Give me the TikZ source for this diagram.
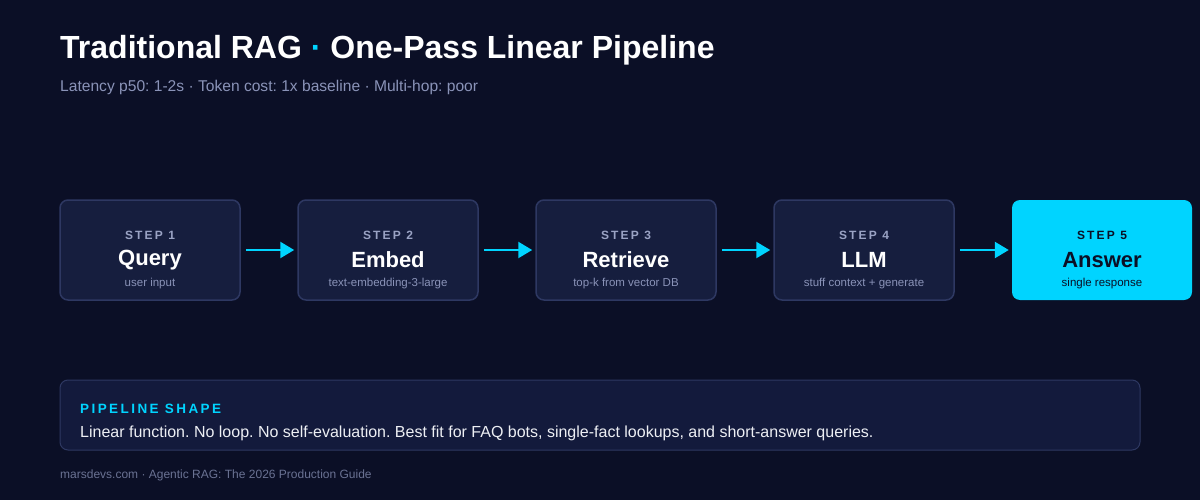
\documentclass[tikz,border=0pt]{standalone}
\usepackage{fontspec}
\setmainfont{Liberation Sans}
\usetikzlibrary{positioning,arrows.meta}
\definecolor{bgc}{HTML}{0B0F26}
\definecolor{boxc}{HTML}{161E3E}
\definecolor{edgec}{HTML}{2E3862}
\definecolor{cyanc}{HTML}{00D4FF}
\definecolor{mutec}{HTML}{8A93B8}
\definecolor{stepc}{HTML}{9AA3C4}
\definecolor{notec}{HTML}{131A3C}
\newcommand{\spaced}[1]{{\addfontfeature{LetterSpace=18}#1}}
\frenchspacing
\begin{document}
\begin{tikzpicture}[x=1pt,y=-1pt,>={Triangle[length=14pt,width=16pt]},
  every node/.style={inner sep=0pt},
  stepbox/.style={draw=edgec,line width=1.5pt,fill=boxc,rounded corners=8pt,minimum width=180pt,minimum height=100pt},
  lastbox/.style={fill=cyanc,rounded corners=8pt,minimum width=180pt,minimum height=100pt},
  flow/.style={->,draw=cyanc,line width=2.5pt,shorten <=5pt,shorten >=3pt}]
\fill[bgc] (0,0) rectangle (1200,500);
\useasboundingbox (0,0) rectangle (1200,500);
% heading
\node[anchor=base west,text=white,font=\bfseries\fontsize{32}{34}\selectfont] (title) at (60,59) {Traditional RAG \textcolor{cyanc}{·} One-Pass Linear Pipeline};
\node[anchor=base west,text=mutec,font=\fontsize{15.6}{18}\selectfont] (sub) at (60,92) {Latency p50: 1-2s · Token cost: 1x baseline · Multi-hop: poor};
% steps
\node[stepbox] (s1) at (150,250) {};
\node[stepbox] (s2) at (388,250) {};
\node[stepbox] (s3) at (626,250) {};
\node[stepbox] (s4) at (864,250) {};
\node[lastbox] (s5) at (1102,250) {};
\foreach \n/\k/\t/\d in {s1/1/Query/user input,s2/2/Embed/text-embedding-3-large,s3/3/Retrieve/top-k from vector DB,s4/4/LLM/stuff context + generate}{
  \node[text=stepc,font=\bfseries\fontsize{12}{14}\selectfont] (\n k) at ([yshift=15pt]\n.center) {\spaced{STEP \k}};
  \node[text=white,font=\bfseries\fontsize{22}{24}\selectfont] (\n t) at ([yshift=-10pt]\n.center) {\t};
  \node[text=mutec,font=\fontsize{11.5}{13}\selectfont] (\n d) at ([yshift=-34pt]\n.center) {\d};
}
\node[text=bgc,font=\bfseries\fontsize{12}{14}\selectfont] (s5k) at ([yshift=15pt]s5.center) {\spaced{STEP 5}};
\node[text=bgc,font=\bfseries\fontsize{22}{24}\selectfont] (s5t) at ([yshift=-10pt]s5.center) {Answer};
\node[text=bgc,font=\fontsize{11.5}{13}\selectfont] (s5d) at ([yshift=-34pt]s5.center) {single response};
\draw[flow] (s1) -- (s2);
\draw[flow] (s2) -- (s3);
\draw[flow] (s3) -- (s4);
\draw[flow] (s4) -- (s5);
% note
\node[draw=edgec,line width=1pt,fill=notec,rounded corners=8pt,minimum width=1080pt,minimum height=70pt] (note) at (600,415) {};
\node[anchor=base west,text=cyanc,font=\bfseries\fontsize{13.5}{15}\selectfont] (notek) at (80,413) {\spaced{PIPELINE SHAPE}};
\node[anchor=base west,text=white!85!mutec,font=\fontsize{16}{18}\selectfont] (notet) at (80,437) {Linear function. No loop. No self-evaluation. Best fit for FAQ bots, single-fact lookups, and short-answer queries.};
\node[anchor=base west,text=mutec!75!bgc,font=\fontsize{12}{14}\selectfont] (foot) at (60,478) {marsdevs.com · Agentic RAG: The 2026 Production Guide};
\end{tikzpicture}
\end{document}
